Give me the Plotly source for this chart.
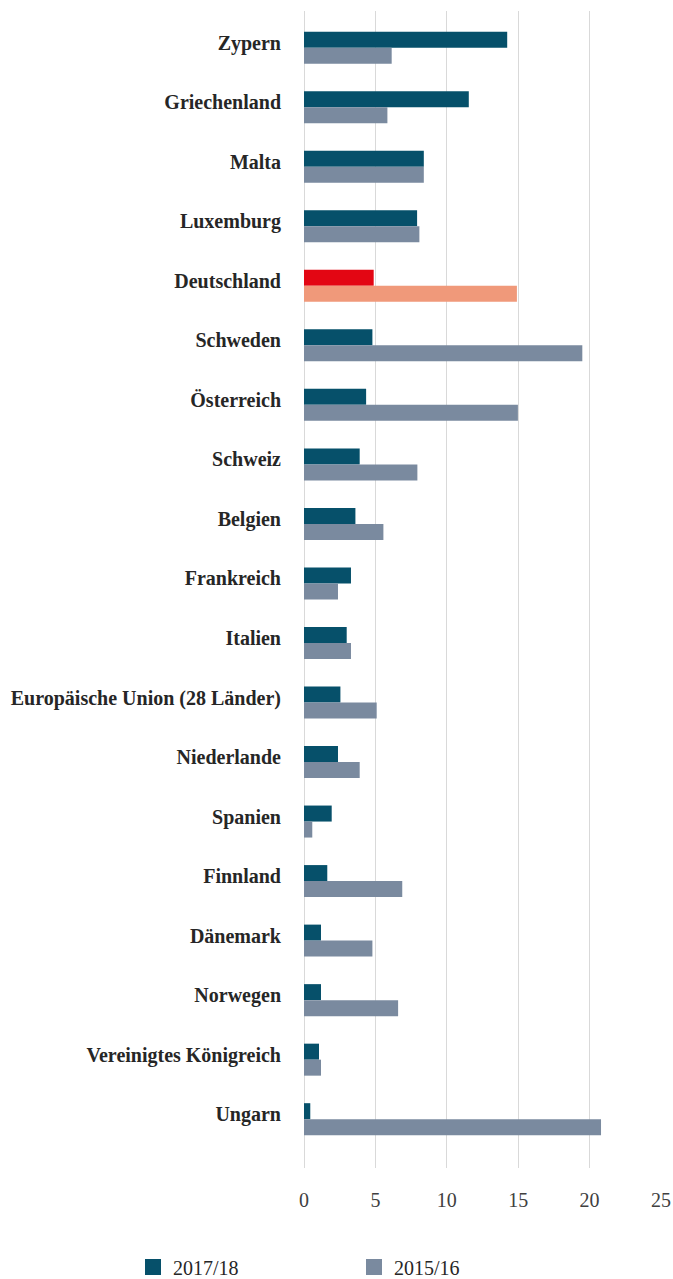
import plotly.graph_objects as go

categories = ["Zypern", "Griechenland", "Malta", "Luxemburg", "Deutschland", "Schweden",
              "Österreich", "Schweiz", "Belgien", "Frankreich", "Italien",
              "Europäische Union (28 Länder)", "Niederlande", "Spanien", "Finnland",
              "Dänemark", "Norwegen", "Vereinigtes Königreich", "Ungarn"]
v_2017_18 = [14.23, 11.54, 8.39, 7.92, 4.88, 4.79, 4.35, 3.90, 3.60, 3.29, 2.99,
             2.55, 2.38, 1.94, 1.63, 1.19, 1.19, 1.05, 0.44]
v_2015_16 = [6.14, 5.84, 8.39, 8.08, 14.91, 19.49, 14.98, 7.94, 5.56, 2.38, 3.29,
             5.09, 3.90, 0.58, 6.88, 4.79, 6.59, 1.19, 20.80]
series_names = ["2017/18", "2015/16"]
x_ticks = [0, 5, 10, 15, 20, 25]

DARK = "#06506a"
GRAY = "#7a8a9f"
RED = "#e30613"
SALMON = "#f0997a"
highlight = "Deutschland"

c1 = [RED if c == highlight else DARK for c in categories]
c2 = [SALMON if c == highlight else GRAY for c in categories]

W, H = 673, 1279

fig = go.Figure()
fig.add_trace(go.Bar(y=categories, x=v_2017_18, orientation="h", name=series_names[0],
                     marker=dict(color=c1, line=dict(width=0)), showlegend=False))
fig.add_trace(go.Bar(y=categories, x=v_2015_16, orientation="h", name=series_names[1],
                     marker=dict(color=c2, line=dict(width=0)), showlegend=False))
# legend proxies
fig.add_trace(go.Scatter(x=[None], y=[None], mode="markers", name=series_names[0],
                         marker=dict(symbol="square", size=18, color=DARK),
                         legend="legend"))
fig.add_trace(go.Scatter(x=[None], y=[None], mode="markers", name=series_names[1],
                         marker=dict(symbol="square", size=18, color=GRAY),
                         legend="legend2"))

legend_common = dict(xref="container", yref="container", xanchor="left", yanchor="middle",
                     y=1 - 1267 / H, bgcolor="rgba(0,0,0,0)",
                     font=dict(size=20, family="Liberation Serif", color="#262626"))

fig.update_layout(
    width=W, height=H,
    margin=dict(l=304, r=12, t=11, b=111, autoexpand=False),
    paper_bgcolor="white", plot_bgcolor="white",
    barmode="group", bargap=0.4625, bargroupgap=0,
    font=dict(family="Liberation Serif", color="#262626"),
    showlegend=True,
    legend=dict(x=133 / W, **legend_common),
    legend2=dict(x=354 / W, **legend_common),
    xaxis=dict(range=[0, 25], tickvals=x_ticks, showgrid=True, gridcolor="#d9d9d9",
               gridwidth=1.3, zeroline=True, zerolinecolor="#d9d9d9", zerolinewidth=1.3,
               showline=False, ticks="", ticklabelstandoff=18, automargin=False,
               tickfont=dict(size=20, family="Liberation Serif", color="#404040"),
               fixedrange=True),
    yaxis=dict(type="category", range=[18.82, -0.6165], showgrid=False, zeroline=False,
               showline=False, ticks="", ticklabelstandoff=22, ticklabelshift=5,
               automargin=False,
               tickfont=dict(size=20, family="Liberation Serif", color="#262626",
                             weight="bold"),
               fixedrange=True),
)

fig.write_html(
    "out.html",
    config={"displayModeBar": False},
    post_script="document.body.style.margin='0';"
                "document.documentElement.style.overflow='hidden';",
)
